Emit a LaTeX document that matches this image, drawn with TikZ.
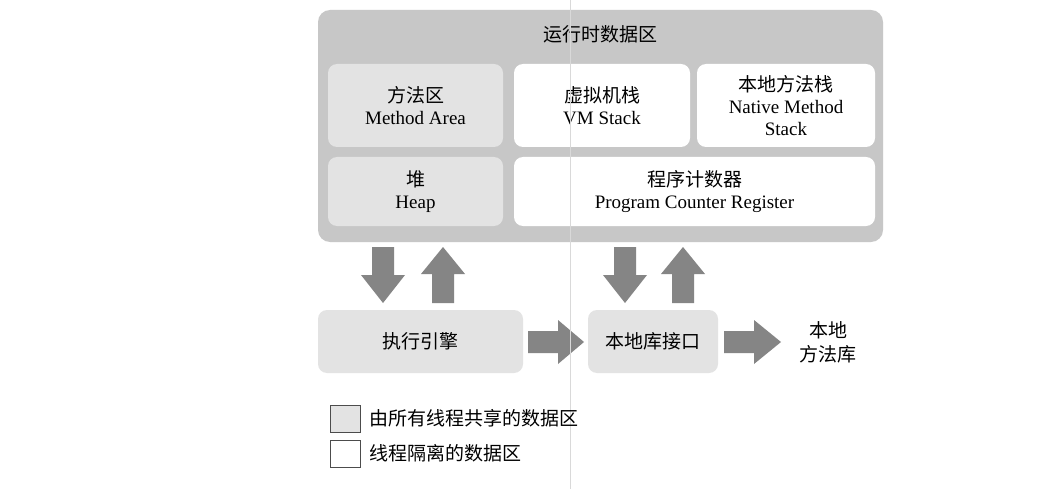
\documentclass[tikz,border=0pt]{standalone}
\usepackage{fontspec}
\setmainfont{Liberation Serif}
\newfontfamily\cjk{Noto Sans CJK SC}
\begin{document}
\begin{tikzpicture}[x=1pt,y=-1pt,
  box/.style={draw=none,rounded corners=9pt,align=center,font=\fontsize{19}{22}\selectfont},
  shared/.style={box,fill=black!11},
  priv/.style={box,fill=white},
  blk/.style={fill=black!48,draw=none}]
\useasboundingbox (0,0) rectangle (1041,489);
\fill[white] (0,0) rectangle (1041,489);
\fill[black!22,rounded corners=12pt] (318,10) rectangle (883,242);
\node[font=\cjk\fontsize{19}{22}\selectfont] (title) at (600,34) {运行时数据区};
\path[shared] (328,64) rectangle (503,147) node[midway,align=center] (ma) {{\cjk 方法区}\\Method Area};
\path[priv] (514,64) rectangle (690,147) node[midway,align=center] (vm) {{\cjk 虚拟机栈}\\VM Stack};
\path[priv] (697,64) rectangle (875,147) node[midway,align=center] (nm) {{\cjk 本地方法栈}\\Native Method\\Stack};
\path[shared] (328,157) rectangle (503,226) node[midway,align=center] (hp) {{\cjk 堆}\\Heap};
\path[priv] (514,157) rectangle (875,226) node[midway,align=center] (pc) {{\cjk 程序计数器}\\Program Counter Register};
\path[shared] (318,310) rectangle (523,373) node[midway,font=\cjk\fontsize{19}{22}\selectfont] (ee) {执行引擎};
\path[shared] (588,310) rectangle (718,373) node[midway,font=\cjk\fontsize{19}{22}\selectfont] (ni) {本地库接口};
\node[align=center,font=\cjk\fontsize{19}{24}\selectfont] (nl) at (828,342) {本地\\方法库};
% block arrows
\newcommand\dnarrow[3]{\fill[blk] (#1-11,#2) -- (#1+11,#2) -- (#1+11,#2+28) -- (#1+22,#2+28) -- (#1,#3) -- (#1-22,#2+28) -- (#1-11,#2+28) -- cycle;}
\newcommand\uparr[3]{\fill[blk] (#1-11,#3) -- (#1+11,#3) -- (#1+11,#2+27) -- (#1+22,#2+27) -- (#1,#2) -- (#1-22,#2+27) -- (#1-11,#2+27) -- cycle;}
\newcommand\rtarrow[3]{\fill[blk] (#1,#3-11) -- (#1+30,#3-11) -- (#1+30,#3-22) -- (#2,#3) -- (#1+30,#3+22) -- (#1+30,#3+11) -- (#1,#3+11) -- cycle;}
\dnarrow{383}{247}{303}
\uparr{443}{247}{303}
\dnarrow{625}{247}{303}
\uparr{683}{247}{303}
\rtarrow{528}{584}{342}
\rtarrow{724}{781}{342}
\draw[black!15,line width=0.6pt] (570,0) -- (570,489);
% legend
\draw[black!70,fill=black!11] (330,405) rectangle (360,432);
\draw[black!70,fill=white] (330,440) rectangle (360,467);
\node[anchor=west,font=\cjk\fontsize{19}{22}\selectfont] (l1) at (366,418) {由所有线程共享的数据区};
\node[anchor=west,font=\cjk\fontsize{19}{22}\selectfont] (l2) at (366,453) {线程隔离的数据区};
\end{tikzpicture}
\end{document}
